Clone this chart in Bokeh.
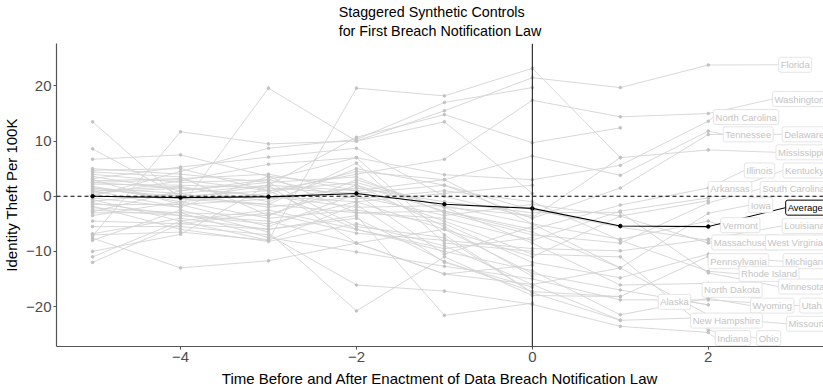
from bokeh.plotting import figure
from bokeh.models import Range1d, FixedTicker, Span
from bokeh.core.properties import value
from bokeh.embed import file_html
from bokeh.resources import INLINE

FONT = "Liberation Sans"

title_text = "Staggered Synthetic Controls\nfor First Breach Notification Law"

times = [-5, -4, -3, -2, -1, 0, 1, 2]

states = ["Florida", "Washington", "North Carolina", "Tennessee", "Delaware", "Mississippi",
          "Illinois", "Kentucky", "Arkansas", "South Carolina", "Iowa", "Vermont", "Louisiana",
          "Massachusetts", "West Virginia", "Pennsylvania", "Michigan", "Rhode Island",
          "Minnesota", "North Dakota", "Alaska", "Wyoming", "Utah", "New Hampshire",
          "Missouri", "Indiana", "Ohio",
          "Alabama", "Arizona", "California", "Colorado", "Connecticut",
          "Georgia", "Hawaii", "Idaho", "Kansas", "Maine", "Maryland", "Montana",
          "Nebraska", "Nevada", "New Jersey", "New Mexico", "Oklahoma"]

t_m5 = [-7.2, 2.5, 4.0, 1.5, 0.9, 3.2, -0.3, 1.2, -2.5, 5.0, -1.8, 0.6, -4.5, 2.2, -0.9, 1.8,
        -6.8, 3.6, -1.5, 4.4, -10.0, 8.6, -2.1, -3.5, 0.3, -5.5, 2.8,
        13.5, -7.6, 6.7, -8.0, -11.0, -12.0, 1.0, 0.0, -7.0, 4.7, 1.5, -1.2, 2.5, -0.6, -3.0, -2.8, 3.0]
t_m4 = [11.7, 3.0, 2.5, 0.5, 1.8, 5.3, -2.0, 0.0, -3.5, 4.0, -6.0, 1.5, -5.0, 2.0, 0.5, -1.0,
        -4.0, 1.0, -1.5, 3.5, -6.9, 0.0, -3.0, -1.0, 2.8, -5.5, 3.2,
        -0.5, -13.0, 7.5, -2.5, -4.5, -5.0, -2.0, 4.5, -6.5, 5.0, -0.5, -3.5, 1.5, -4.5, -3.0, 1.0, -1.5]
t_m3 = [9.5, 1.0, 3.0, 2.0, -1.0, 7.1, 3.6, -1.5, -5.0, 2.5, -8.2, 0.0, -3.0, 1.5, -2.0, -4.0,
        -6.0, 3.0, -0.5, -3.5, 2.0, 1.0, -7.5, 0.5, 5.8, -7.0, 4.0,
        2.0, -11.7, 3.6, -6.5, -8.0, -6.0, 19.6, 8.7, -8.0, 1.0, -1.5, -4.5, 0.0, -2.5, -3.5, 2.5, -5.5]
t_m2 = [10.0, 4.0, 7.0, 1.0, 5.0, 8.7, 2.0, -3.0, -1.0, 3.5, -5.0, -2.0, -6.7, 0.5, 0.0, -2.5,
        -4.0, -0.5, 1.5, 3.0, -8.5, -6.0, -10.1, 4.5, 7.0, -16.1, 1.0,
        10.7, -8.5, -3.0, -20.8, 19.6, -3.5, 10.0, 10.3, -1.5, 2.5, 6.0, -8.5, -1.0, -6.0, 2.0, -5.5, 0.4]
t_m1 = [15.5, 6.7, 3.9, 3.0, 2.0, 0.0, -2.7, -4.0, -6.0, -3.0, -9.0, -1.7, -8.0, 2.0, -3.5, -5.0,
        -11.8, 1.0, -1.0, -2.0, -6.0, -10.0, -12.7, 3.0, -7.0, -17.2, -4.5,
        14.8, -14.1, -2.7, -11.0, 18.2, -21.6, 13.5, 17.0, -12.0, -2.0, -8.5, -14.1, 0.5, -9.5, -5.5, -7.5, -10.5]
t_0 = [21.5, 17.4, 3.0, 7.3, -4.0, -3.9, -6.0, -8.0, -11.0, -7.0, -16.0, -5.0, -9.5, -2.5, -1.5, -12.0,
       -17.3, -1.0, -3.0, -8.5, -14.0, -13.5, -15.0, -5.0, -17.5, -19.6, -10.5,
       9.7, -16.0, -6.5, -18.0, 23.2, -19.4, 0.5, 19.7, -16.5, -3.5, -10.0, -12.5, 2.0, -7.5, -14.5, -17.5, -5.5]
t_p1 = [19.7, 14.4, 5.6, 3.8, 1.5, 7.0, -1.6, -2.7, -3.6, -8.5, -13.0, -7.8, -9.9, -5.6, -3.6, -14.8,
        -18.2, -8.0, -2.9, -16.1, -17.0, -21.5, -18.8, -13.0, -22.5, -23.6, -11.0,
        12.4, -22.5, -13.0, -18.2, 7.0] + [None] * 12
t_p2 = [23.8, 15.0, 13.6, 11.8, 11.2, 8.4, 1.5, -0.3, -0.8, -1.2, -3.1, -4.5, -7.8, -8.0, -8.5, -10.5,
        -10.9, -13.6, -13.9, -15.8, -19.7, -18.5, -18.8, -21.5, -22.0, -24.7, -24.3] + [None] * 17

average = [0.0, -0.25, -0.1, 0.5, -1.45, -2.2, -5.4, -5.5]

# label placement (repelled positions), for the states present at t = 2
label_x = [2.80, 2.73, 2.06, 2.17, 2.84, 2.77, 2.41, 2.85, 2.00, 2.59, 2.46, 2.14, 2.84,
           2.04, 2.65, 2.00, 2.85, 2.35, 2.80, 1.93, 1.80, 2.48, 3.04, 1.80, 2.89, 2.08, 2.55]
label_y = [23.84, 17.63, 14.37, 11.23, 11.23, 7.97, 4.67, 4.67, 1.32, 1.32, -1.63, -5.25, -5.38,
           -8.37, -8.37, -11.78, -11.78, -14.08, -16.38, -16.97, -19.15, -19.84, -19.84, -22.55,
           -23.13, -25.72, -25.72]
label_align = ["left"] * 20 + ["right"] + ["left"] * 6
avg_label_pos = (2.88, -2.07)

columns = [t_m5, t_m4, t_m3, t_m2, t_m1, t_0, t_p1, t_p2]

xs, ys, px, py = [], [], [], []
for i in range(len(states)):
    xx, yy = [], []
    for t, col in zip(times, columns):
        v = col[i]
        if v is not None:
            xx.append(t)
            yy.append(v)
    xs.append(xx)
    ys.append(yy)
    px += xx
    py += yy

n_lab = len(label_x)
lab_names = states[:n_lab]
seg_x0 = [2] * n_lab
seg_y0 = t_p2[:n_lab]

p = figure(width=823, height=389, x_range=Range1d(-5.41, 3.31), y_range=Range1d(-27.25, 27.7),
           output_backend="svg", toolbar_location=None,
           min_border_left=51, min_border_right=0, min_border_top=43, min_border_bottom=42,
           background_fill_color="white", border_fill_color="white")
p.outline_line_color = None
p.grid.visible = False

p.title.text = title_text
p.title.align = "center"
p.title.vertical_align = "top"
p.title.text_font = FONT
p.title.text_font_size = "14.3px"
p.title.text_font_style = "normal"
p.title.text_color = "black"
p.title.text_line_height = 1.17
p.title.standoff = 5
p.title.padding = 0

for ax in (p.xaxis[0], p.yaxis[0]):
    ax.axis_line_color = "#555555"
    ax.axis_line_width = 1.2
    ax.major_tick_line_color = "#555555"
    ax.major_tick_out = 3
    ax.major_tick_in = 0
    ax.minor_tick_line_color = None
    ax.major_label_text_font = FONT
    ax.major_label_text_font_size = "15px"
    ax.major_label_text_color = "#4d4d4d"
    ax.axis_label_text_font = FONT
    ax.axis_label_text_font_size = "15px"
    ax.axis_label_text_font_style = "normal"
    ax.axis_label_text_color = "black"
    ax.major_label_standoff = 2

p.xaxis.ticker = FixedTicker(ticks=[-4, -2, 0, 2])
p.yaxis.ticker = FixedTicker(ticks=[-20, -10, 0, 10, 20])
p.xaxis.axis_label = "Time Before and After Enactment of Data Breach Notification Law"
p.yaxis.axis_label = "Identity Theft Per 100K"
p.xaxis.axis_label_standoff = 5
p.yaxis.axis_label_standoff = 3

# connectors
p.segment(x0=seg_x0, y0=seg_y0, x1=label_x, y1=label_y, line_color="#d6d6d6", line_width=0.9)

# state lines
p.multi_line(xs, ys, line_color="#d4d4d4", line_width=0.9)
p.scatter(px, py, size=2.6, color="#c2c2c2")

p.add_layout(Span(location=0, dimension="width", line_color="black", line_dash="4 3", line_width=1.1))
p.add_layout(Span(location=0, dimension="height", line_color="#222222", line_width=1.1))

# average
p.line(times, average, line_color="black", line_width=1.2)
p.scatter(times, average, size=3.5, color="black")
p.segment(x0=[times[-1]], y0=[average[-1]], x1=[avg_label_pos[0]], y1=[avg_label_pos[1]],
          line_color="black", line_width=1.0)

# state labels
p.text(x=label_x, y=label_y, text=lab_names, text_align=label_align,
       text_baseline="middle", text_font=value(FONT), text_font_size="9.5px",
       text_color="#c4c4c4", background_fill_color="white",
       border_line_color="#dedede", border_line_width=0.8, padding=2, border_radius=2)

p.text(x=[avg_label_pos[0]], y=[avg_label_pos[1]], text=["Average"], text_align="left",
       text_baseline="middle", text_font=value(FONT), text_font_size="9.5px",
       text_color="black", background_fill_color="white",
       border_line_color="black", border_line_width=1, padding=2, border_radius=2)

open("out.html", "w").write(file_html(p, INLINE))
